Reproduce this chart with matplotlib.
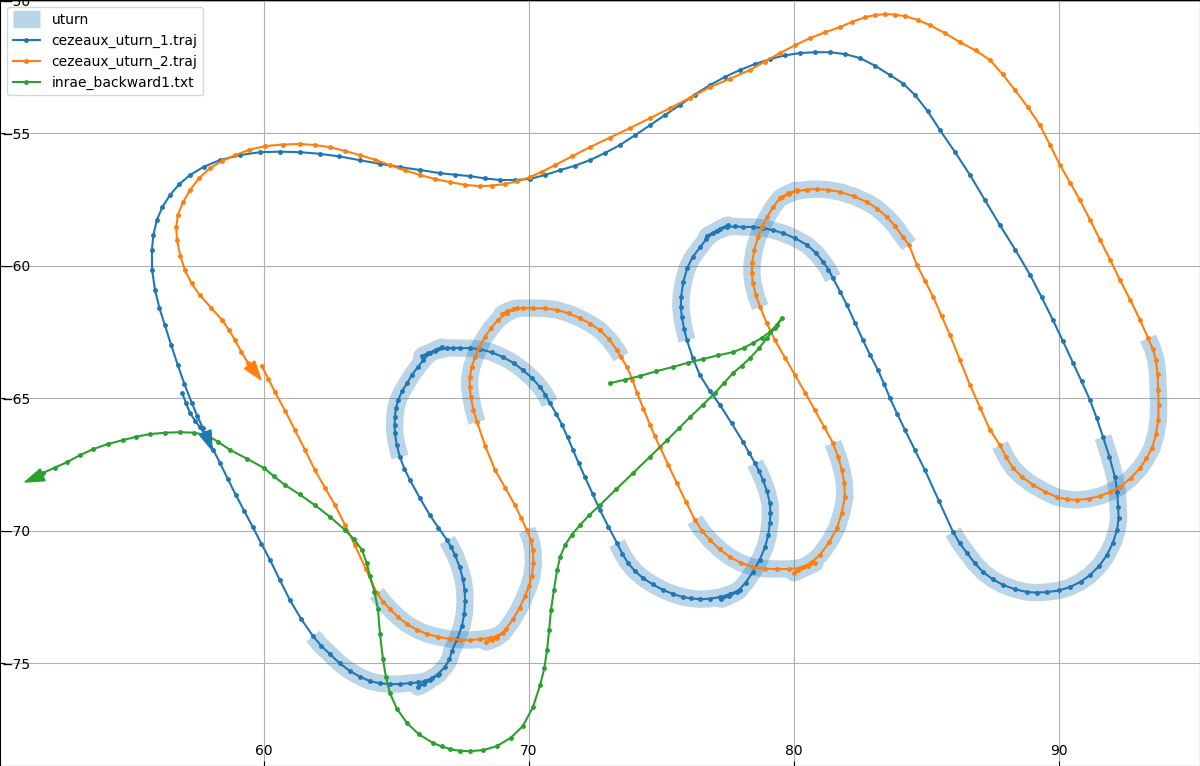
import matplotlib
matplotlib.use("Agg")
import matplotlib.pyplot as plt

# trajectories (x, y in metres)
traj_1 = [
    (56.91, -64.80), (57.06, -65.18), (57.21, -65.56), (57.40, -65.84), (57.58, -66.09), (57.85, -66.46),
    (58.09, -66.95), (58.34, -67.44), (58.64, -68.05), (58.94, -68.65), (59.26, -69.26), (59.58, -69.86),
    (59.90, -70.48), (60.23, -71.10), (60.60, -71.86), (60.98, -72.61), (61.40, -73.32), (61.85, -73.97),
    (62.16, -74.34), (62.49, -74.65), (62.86, -75.00), (63.25, -75.29), (63.62, -75.50), (64.00, -75.67),
    (64.38, -75.75), (64.75, -75.78), (65.14, -75.78), (65.51, -75.74), (65.80, -75.72), (66.08, -75.67),
    (66.35, -75.55), (66.60, -75.40), (65.81, -75.89), (66.05, -75.77), (66.26, -75.63), (66.55, -75.42),
    (66.83, -75.13), (67.00, -74.85), (67.09, -74.53), (67.30, -74.07), (67.47, -73.59), (67.56, -73.12),
    (67.59, -72.65), (67.57, -72.23), (67.51, -71.82), (67.38, -71.36), (67.21, -70.91), (67.06, -70.62),
    (66.91, -70.35), (66.58, -69.88), (66.26, -69.41), (65.88, -68.76), (65.51, -68.09), (65.30, -67.66),
    (65.13, -67.22), (65.01, -66.76), (64.94, -66.31), (64.93, -66.01), (64.94, -65.71), (64.98, -65.38),
    (65.06, -65.07), (65.21, -64.74), (65.40, -64.43), (65.59, -64.11), (65.81, -63.82), (66.02, -63.55),
    (66.26, -63.30), (66.50, -63.17), (66.72, -63.07), (65.96, -63.41), (66.20, -63.31), (66.45, -63.22),
    (66.92, -63.11), (67.15, -63.10), (67.40, -63.11), (67.78, -63.11), (68.15, -63.15), (68.60, -63.27),
    (69.02, -63.45), (69.42, -63.67), (69.77, -63.94), (70.12, -64.24), (70.42, -64.58), (70.62, -64.87),
    (70.79, -65.18), (71.03, -65.59), (71.25, -66.01), (71.46, -66.48), (71.66, -66.95), (71.88, -67.46),
    (72.11, -67.97), (72.40, -68.60), (72.68, -69.22), (73.00, -69.85), (73.32, -70.46), (73.52, -70.86),
    (73.74, -71.22), (74.00, -71.52), (74.30, -71.78), (74.67, -72.02), (75.06, -72.23), (75.43, -72.38),
    (75.81, -72.50), (76.13, -72.55), (76.45, -72.58), (76.83, -72.56), (77.21, -72.50), (77.60, -72.38),
    (77.96, -72.23), (77.25, -72.58), (77.55, -72.46), (77.85, -72.31), (78.18, -71.95), (78.45, -71.55),
    (78.70, -71.10), (78.91, -70.61), (79.03, -70.16), (79.09, -69.71), (79.11, -69.32), (79.09, -68.95),
    (78.98, -68.50), (78.83, -68.09), (78.68, -67.75), (78.53, -67.45), (78.30, -67.05), (78.08, -66.65),
    (77.65, -65.95), (77.21, -65.26), (76.82, -64.72), (76.45, -64.13), (76.18, -63.48), (75.96, -62.81),
    (75.85, -62.38), (75.77, -61.94), (75.73, -61.56), (75.74, -61.18), (75.82, -60.62), (75.97, -60.09),
    (76.18, -59.67), (76.46, -59.30), (76.68, -59.01), (76.94, -58.77), (77.22, -58.60), (77.51, -58.47),
    (76.72, -58.88), (77.10, -58.69), (77.47, -58.54), (77.78, -58.52), (78.08, -58.54), (78.45, -58.54),
    (78.83, -58.58), (79.20, -58.66), (79.58, -58.77), (80.05, -58.97), (80.49, -59.22), (80.83, -59.52),
    (81.10, -59.86), (81.30, -60.15), (81.47, -60.47), (81.74, -60.98), (82.00, -61.49), (82.30, -62.15),
    (82.60, -62.81), (82.88, -63.38), (83.17, -63.94), (83.40, -64.46), (83.62, -64.99), (83.90, -65.60),
    (84.19, -66.20), (84.56, -66.95), (84.94, -67.71), (85.47, -68.87), (86.00, -70.04), (86.25, -70.46),
    (86.53, -70.84), (86.82, -71.22), (87.13, -71.55), (87.50, -71.83), (87.89, -72.04), (88.33, -72.20),
    (88.79, -72.31), (89.17, -72.33), (89.55, -72.31), (90.00, -72.25), (90.42, -72.12), (90.82, -71.92),
    (91.17, -71.67), (91.52, -71.32), (91.81, -70.91), (92.03, -70.46), (92.19, -69.97), (92.25, -69.53),
    (92.23, -69.10), (92.20, -68.52), (92.11, -67.97), (91.90, -67.20), (91.66, -66.46), (91.42, -65.75),
    (91.17, -65.07), (90.85, -64.36), (90.53, -63.67), (90.15, -62.85), (89.77, -62.05), (89.35, -61.20),
    (88.91, -60.35), (88.35, -59.40), (87.77, -58.47), (87.20, -57.52), (86.64, -56.58), (86.08, -55.72),
    (85.51, -54.89), (85.05, -54.18), (84.57, -53.57), (84.12, -53.13), (83.62, -52.81), (83.06, -52.46),
    (82.49, -52.17), (81.92, -52.02), (81.36, -51.95), (80.80, -51.95), (80.23, -51.98), (79.65, -52.07),
    (79.09, -52.21), (78.52, -52.40), (77.96, -52.62), (77.38, -52.89), (76.83, -53.19), (76.25, -53.55),
    (75.70, -53.94), (75.13, -54.32), (74.57, -54.70), (74.00, -55.08), (73.43, -55.45), (72.87, -55.75),
    (72.30, -56.02), (71.73, -56.23), (71.17, -56.40), (70.60, -56.58), (70.04, -56.73), (69.47, -56.77),
    (68.91, -56.77), (68.34, -56.71), (67.77, -56.62), (67.20, -56.57), (66.64, -56.51), (65.88, -56.39),
    (65.12, -56.28), (64.37, -56.16), (63.62, -56.02), (62.85, -55.88), (62.10, -55.78), (61.36, -55.72),
    (60.60, -55.70), (59.85, -55.72), (59.08, -55.83), (58.34, -56.02), (57.75, -56.26), (57.21, -56.58),
    (56.80, -56.93), (56.45, -57.34), (56.16, -57.80), (55.96, -58.28), (55.83, -58.83), (55.77, -59.41),
    (55.78, -60.17), (55.89, -60.92), (56.05, -61.58), (56.26, -62.24), (56.50, -63.00), (56.75, -63.75),
    (57.00, -64.47), (57.28, -65.18), (57.48, -65.66), (57.70, -66.13),
]

traj_2 = [
    (59.92, -63.79), (60.17, -64.28), (60.42, -64.77), (60.80, -65.48), (61.17, -66.20), (61.55, -66.95),
    (61.92, -67.71), (62.30, -68.37), (62.68, -69.03), (63.06, -69.78), (63.43, -70.54), (63.85, -71.45),
    (64.26, -72.35), (64.50, -72.67), (64.75, -72.95), (65.07, -73.26), (65.40, -73.52), (65.77, -73.73),
    (66.15, -73.89), (66.58, -74.00), (67.02, -74.08), (67.40, -74.11), (67.77, -74.12), (68.15, -74.09),
    (68.53, -74.04), (68.78, -73.97), (69.02, -73.86), (68.38, -74.19), (68.60, -74.12), (68.79, -74.04),
    (69.12, -73.72), (69.40, -73.33), (69.65, -72.90), (69.85, -72.46), (70.00, -72.08), (70.11, -71.71),
    (70.17, -71.22), (70.15, -70.73), (70.07, -70.34), (69.92, -69.97), (69.70, -69.50), (69.47, -69.03),
    (69.10, -68.37), (68.72, -67.71), (68.35, -66.80), (68.04, -65.90), (67.90, -65.43), (67.81, -64.96),
    (67.76, -64.58), (67.77, -64.20), (67.84, -63.82), (67.96, -63.45), (68.13, -63.06), (68.34, -62.69),
    (68.57, -62.35), (68.83, -62.05), (69.17, -61.78), (69.55, -61.60), (68.98, -61.83), (69.18, -61.72),
    (69.40, -61.64), (69.77, -61.60), (70.15, -61.60), (70.60, -61.61), (71.06, -61.67), (71.50, -61.80),
    (71.92, -61.98), (72.32, -62.19), (72.68, -62.43), (73.02, -62.78), (73.32, -63.18), (73.47, -63.45),
    (73.70, -63.82), (73.90, -64.30), (74.08, -64.80), (74.32, -65.40), (74.57, -66.01), (74.75, -66.43),
    (74.94, -66.84), (75.26, -67.52), (75.58, -68.20), (75.92, -68.90), (76.26, -69.59), (76.53, -70.00),
    (76.83, -70.35), (77.20, -70.70), (77.58, -70.99), (78.00, -71.21), (78.45, -71.37), (78.90, -71.43),
    (79.36, -71.44), (79.80, -71.44), (80.23, -71.40), (80.52, -71.33), (80.79, -71.22), (80.00, -71.59),
    (80.17, -71.48), (80.34, -71.37), (80.68, -71.17), (80.98, -70.91), (81.33, -70.43), (81.62, -69.90),
    (81.80, -69.32), (81.92, -68.73), (81.90, -68.20), (81.81, -67.71), (81.66, -67.20), (81.47, -66.69),
    (81.13, -66.07), (80.79, -65.45), (80.42, -64.79), (80.04, -64.13), (79.66, -63.47), (79.28, -62.81),
    (78.98, -62.18), (78.72, -61.56), (78.56, -61.11), (78.45, -60.66), (78.41, -60.28), (78.42, -59.90),
    (78.50, -59.40), (78.64, -58.92), (78.80, -58.53), (78.98, -58.17), (79.21, -57.79), (79.47, -57.45),
    (79.78, -57.27), (80.11, -57.15), (79.55, -57.41), (79.83, -57.28), (80.11, -57.19), (80.49, -57.13),
    (80.87, -57.11), (81.30, -57.14), (81.74, -57.22), (82.25, -57.38), (82.75, -57.60), (83.15, -57.85),
    (83.51, -58.17), (83.83, -58.52), (84.11, -58.92), (84.34, -59.22), (84.64, -59.98), (84.95, -60.58),
    (85.25, -61.18), (85.57, -61.90), (85.89, -62.62), (86.26, -63.56), (86.64, -64.50), (87.02, -65.35),
    (87.40, -66.20), (87.77, -66.77), (88.00, -67.22), (88.26, -67.63), (88.62, -67.98), (89.02, -68.27),
    (89.46, -68.52), (89.92, -68.73), (90.30, -68.81), (90.68, -68.84), (91.12, -68.79), (91.55, -68.69),
    (91.94, -68.53), (92.30, -68.35), (92.70, -68.02), (93.06, -67.63), (93.30, -67.27), (93.51, -66.88),
    (93.66, -66.35), (93.74, -65.82), (93.76, -65.25), (93.74, -64.69), (93.72, -64.10), (93.66, -63.56),
    (93.53, -63.13), (93.36, -62.73), (93.06, -62.05), (92.68, -61.28), (92.30, -60.54), (91.93, -59.78),
    (91.55, -59.03), (91.17, -58.27), (90.79, -57.53), (90.42, -56.87), (90.04, -56.21), (89.66, -55.45),
    (89.28, -54.70), (88.82, -54.02), (88.34, -53.38), (87.87, -52.78), (87.40, -52.25), (86.85, -51.88),
    (86.26, -51.57), (85.70, -51.23), (85.13, -50.93), (84.67, -50.73), (84.19, -50.59), (83.80, -50.53),
    (83.44, -50.51), (83.05, -50.55), (82.68, -50.63), (82.20, -50.80), (81.74, -51.00), (81.17, -51.20),
    (80.60, -51.42), (80.03, -51.69), (79.47, -51.98), (78.90, -52.30), (78.34, -52.62), (77.58, -52.95),
    (76.83, -53.27), (76.07, -53.67), (75.32, -54.06), (74.56, -54.44), (73.81, -54.81), (73.05, -55.17),
    (72.30, -55.53), (71.63, -55.87), (70.98, -56.21), (70.50, -56.45), (70.04, -56.66), (69.56, -56.82),
    (69.09, -56.92), (68.62, -56.98), (68.15, -57.00), (67.58, -56.95), (67.02, -56.85), (66.45, -56.73),
    (65.89, -56.58), (65.32, -56.40), (64.75, -56.21), (64.18, -56.00), (63.62, -55.83), (63.05, -55.67),
    (62.49, -55.53), (61.92, -55.45), (61.36, -55.41), (60.70, -55.43), (60.04, -55.49), (59.45, -55.63),
    (58.91, -55.83), (58.42, -56.05), (57.96, -56.32), (57.55, -56.70), (57.21, -57.15), (56.95, -57.60),
    (56.75, -58.09), (56.69, -58.56), (56.72, -59.03), (56.84, -59.62), (57.02, -60.17), (57.27, -60.67),
    (57.58, -61.11), (58.00, -61.58), (58.42, -62.05), (58.68, -62.42), (58.91, -62.81), (59.15, -63.26),
    (59.40, -63.67),
]

backward = [
    (73.06, -64.43), (73.62, -64.30), (74.19, -64.16), (74.81, -63.98), (75.43, -63.82), (76.00, -63.66),
    (76.57, -63.52), (77.14, -63.38), (77.70, -63.26), (78.10, -63.10), (78.45, -62.92), (78.79, -62.72),
    (79.09, -62.50), (79.34, -62.25), (79.55, -61.98), (79.28, -62.34), (78.98, -62.73), (78.67, -63.12),
    (78.34, -63.49), (78.02, -63.78), (77.70, -64.05), (77.36, -64.42), (77.02, -64.80), (76.55, -65.26),
    (76.08, -65.71), (75.65, -66.14), (75.21, -66.58), (74.57, -67.20), (73.93, -67.82), (73.30, -68.42),
    (72.68, -69.03), (72.28, -69.40), (71.93, -69.78), (71.62, -70.14), (71.36, -70.54), (71.18, -70.98),
    (71.06, -71.48), (70.94, -72.24), (70.83, -72.99), (70.76, -73.75), (70.68, -74.50), (70.58, -75.18),
    (70.42, -75.82), (70.15, -76.65), (69.77, -77.36), (69.32, -77.80), (68.79, -78.12), (68.28, -78.27),
    (67.77, -78.31), (67.40, -78.30), (67.02, -78.23), (66.70, -78.13), (66.38, -78.00), (65.85, -77.68),
    (65.40, -77.25), (65.02, -76.72), (64.75, -76.12), (64.60, -75.50), (64.49, -74.84), (64.38, -73.90),
    (64.30, -72.95), (64.17, -72.30), (64.00, -71.71), (63.87, -71.20), (63.70, -70.72), (63.40, -70.32),
    (63.06, -69.97), (62.50, -69.48), (61.92, -69.03), (61.35, -68.63), (60.79, -68.27), (60.38, -67.95),
    (60.00, -67.63), (59.36, -67.28), (58.72, -66.95), (58.28, -66.65), (57.85, -66.39), (57.35, -66.30),
    (56.83, -66.28), (56.27, -66.30), (55.70, -66.35), (55.18, -66.45), (54.68, -66.58), (54.10, -66.73),
    (53.55, -66.92), (53.05, -67.15), (52.57, -67.41), (52.10, -67.62), (51.66, -67.82),
]

# x value where each u-turn starts and stops on its trajectory
uturns_1 = [(61.85, 66.91), (65.13, 70.79), (73.32, 78.53), (75.96, 81.47), (86.00, 91.66)]
uturns_2 = [(64.26, 69.92), (68.04, 73.47), (76.26, 81.47), (78.72, 84.34), (87.77, 93.36)]

# arrow tails and tips at the end of each trajectory
arrow_1 = (57.77, -66.26, 58.04, -66.95)
arrow_2 = (59.47, -63.75, 59.89, -64.31)
arrow_3 = (51.62, -67.90, 50.98, -68.16)

fig = plt.figure(figsize=(12, 7.66), dpi=100)
ax = fig.add_axes([0, 0, 1, 1])


def plot_uturns(points, limits, label=None):
    xs = [p[0] for p in points]
    ys = [p[1] for p in points]
    for a, b in limits:
        i = xs.index(a)
        j = xs.index(b)
        ax.plot(xs[i:j + 1], ys[i:j + 1], color="C0", alpha=0.3, lw=12.5,
                solid_capstyle="butt", solid_joinstyle="round", label=label)
        label = None


plot_uturns(traj_1, uturns_1, label="uturn")
plot_uturns(traj_2, uturns_2)

for points, col, name in zip([traj_1, traj_2, backward], ["C0", "C1", "C2"],
                             ["cezeaux_uturn_1.traj", "cezeaux_uturn_2.traj", "inrae_backward1.txt"]):
    ax.plot([p[0] for p in points], [p[1] for p in points], ".-", color=col, ms=5, label=name)

for arrow, col in zip([arrow_1, arrow_2, arrow_3], ["C0", "C1", "C2"]):
    ax.arrow(arrow[0], arrow[1], arrow[2] - arrow[0], arrow[3] - arrow[1], color=col, width=0.02,
             head_width=0.48, head_length=0.72, length_includes_head=True, zorder=3)

ax.set_xlim(50.04, 95.32)
ax.set_ylim(-78.87, -49.98)
ax.set_xticks([60, 70, 80, 90])
ax.set_yticks([-50, -55, -60, -65, -70, -75])
ax.tick_params(axis="x", direction="in", pad=-16)
ax.tick_params(axis="y", direction="in", pad=-22)
ax.grid(True)
ax.legend(loc="upper left")

fig.savefig("out.png", dpi=100)
